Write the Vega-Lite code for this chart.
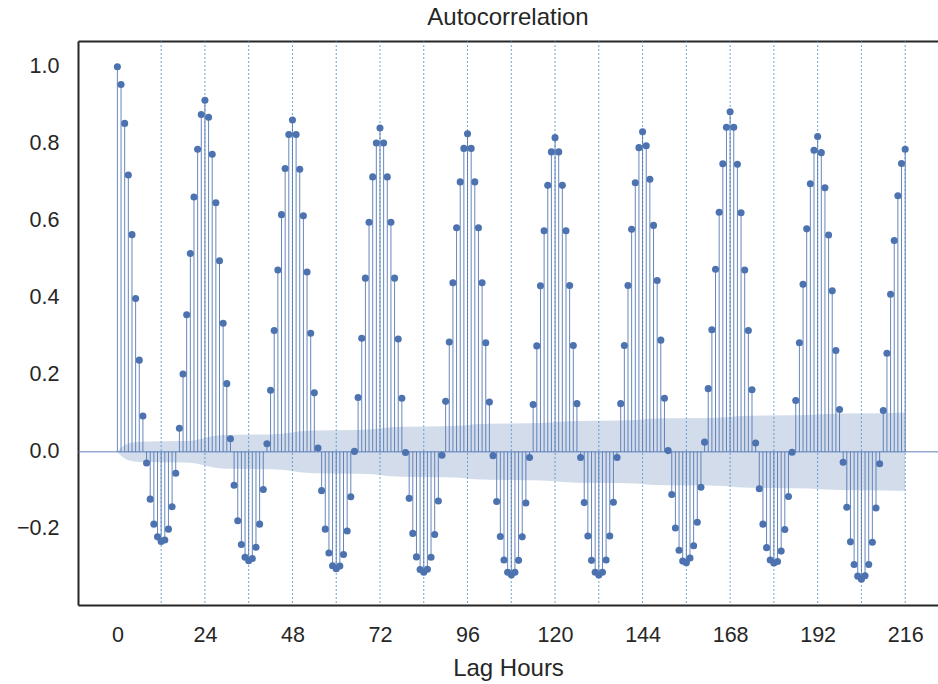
{
  "$schema": "https://vega.github.io/schema/vega-lite/v6.json",
  "width": 860,
  "height": 564,
  "autosize": {"type": "none"},
  "padding": {"left": 78, "top": 41, "right": 0, "bottom": 79},
  "background": "white",
  "config": {
    "view": {"stroke": null},
    "font": "Liberation Sans",
    "axis": {"labelFont": "Liberation Sans", "titleFont": "Liberation Sans", "labelColor": "#262626", "titleColor": "#262626", "grid": false, "ticks": false, "domainColor": "#262626", "domainWidth": 2}
  },
  "title": {"text": "Autocorrelation", "fontSize": 24, "fontWeight": "normal", "font": "Liberation Sans", "color": "#262626", "offset": 11},
  "datasets": {
    "acf": [
      {"lag":0,"acf":1.0},{"lag":1,"acf":0.954},{"lag":2,"acf":0.853},{"lag":3,"acf":0.719},{"lag":4,"acf":0.564},{"lag":5,"acf":0.398},{"lag":6,"acf":0.238},{"lag":7,"acf":0.093},{"lag":8,"acf":-0.029},{"lag":9,"acf":-0.123},{"lag":10,"acf":-0.188},{"lag":11,"acf":-0.221},{"lag":12,"acf":-0.233},{"lag":13,"acf":-0.229},{"lag":14,"acf":-0.201},{"lag":15,"acf":-0.143},{"lag":16,"acf":-0.056},{"lag":17,"acf":0.061},{"lag":18,"acf":0.202},{"lag":19,"acf":0.356},{"lag":20,"acf":0.515},{"lag":21,"acf":0.662},{"lag":22,"acf":0.786},{"lag":23,"acf":0.876},
      {"lag":24,"acf":0.913},{"lag":25,"acf":0.869},{"lag":26,"acf":0.773},{"lag":27,"acf":0.647},{"lag":28,"acf":0.496},{"lag":29,"acf":0.334},{"lag":30,"acf":0.177},{"lag":31,"acf":0.034},{"lag":32,"acf":-0.087},{"lag":33,"acf":-0.179},{"lag":34,"acf":-0.241},{"lag":35,"acf":-0.274},{"lag":36,"acf":-0.283},{"lag":37,"acf":-0.277},{"lag":38,"acf":-0.248},{"lag":39,"acf":-0.188},{"lag":40,"acf":-0.098},{"lag":41,"acf":0.021},{"lag":42,"acf":0.160},{"lag":43,"acf":0.315},{"lag":44,"acf":0.472},{"lag":45,"acf":0.616},{"lag":46,"acf":0.736},{"lag":47,"acf":0.824},
      {"lag":48,"acf":0.862},{"lag":49,"acf":0.824},{"lag":50,"acf":0.734},{"lag":51,"acf":0.613},{"lag":52,"acf":0.467},{"lag":53,"acf":0.308},{"lag":54,"acf":0.153},{"lag":55,"acf":0.010},{"lag":56,"acf":-0.101},{"lag":57,"acf":-0.201},{"lag":58,"acf":-0.263},{"lag":59,"acf":-0.296},{"lag":60,"acf":-0.304},{"lag":61,"acf":-0.297},{"lag":62,"acf":-0.267},{"lag":63,"acf":-0.206},{"lag":64,"acf":-0.117},{"lag":65,"acf":0.001},{"lag":66,"acf":0.141},{"lag":67,"acf":0.295},{"lag":68,"acf":0.451},{"lag":69,"acf":0.596},{"lag":70,"acf":0.714},{"lag":71,"acf":0.802},
      {"lag":72,"acf":0.841},{"lag":73,"acf":0.802},{"lag":74,"acf":0.714},{"lag":75,"acf":0.596},{"lag":76,"acf":0.451},{"lag":77,"acf":0.293},{"lag":78,"acf":0.139},{"lag":79,"acf":-0.002},{"lag":80,"acf":-0.121},{"lag":81,"acf":-0.212},{"lag":82,"acf":-0.273},{"lag":83,"acf":-0.306},{"lag":84,"acf":-0.313},{"lag":85,"acf":-0.305},{"lag":86,"acf":-0.274},{"lag":87,"acf":-0.215},{"lag":88,"acf":-0.128},{"lag":89,"acf":-0.009},{"lag":90,"acf":0.131},{"lag":91,"acf":0.285},{"lag":92,"acf":0.439},{"lag":93,"acf":0.582},{"lag":94,"acf":0.701},{"lag":95,"acf":0.788},
      {"lag":96,"acf":0.826},{"lag":97,"acf":0.788},{"lag":98,"acf":0.701},{"lag":99,"acf":0.582},{"lag":100,"acf":0.439},{"lag":101,"acf":0.283},{"lag":102,"acf":0.129},{"lag":103,"acf":-0.010},{"lag":104,"acf":-0.129},{"lag":105,"acf":-0.220},{"lag":106,"acf":-0.281},{"lag":107,"acf":-0.313},{"lag":108,"acf":-0.320},{"lag":109,"acf":-0.313},{"lag":110,"acf":-0.282},{"lag":111,"acf":-0.221},{"lag":112,"acf":-0.133},{"lag":113,"acf":-0.015},{"lag":114,"acf":0.123},{"lag":115,"acf":0.275},{"lag":116,"acf":0.431},{"lag":117,"acf":0.574},{"lag":118,"acf":0.692},{"lag":119,"acf":0.779},
      {"lag":120,"acf":0.816},{"lag":121,"acf":0.779},{"lag":122,"acf":0.692},{"lag":123,"acf":0.574},{"lag":124,"acf":0.432},{"lag":125,"acf":0.276},{"lag":126,"acf":0.125},{"lag":127,"acf":-0.015},{"lag":128,"acf":-0.132},{"lag":129,"acf":-0.219},{"lag":130,"acf":-0.282},{"lag":131,"acf":-0.313},{"lag":132,"acf":-0.320},{"lag":133,"acf":-0.313},{"lag":134,"acf":-0.281},{"lag":135,"acf":-0.219},{"lag":136,"acf":-0.131},{"lag":137,"acf":-0.015},{"lag":138,"acf":0.125},{"lag":139,"acf":0.276},{"lag":140,"acf":0.432},{"lag":141,"acf":0.578},{"lag":142,"acf":0.699},{"lag":143,"acf":0.790},
      {"lag":144,"acf":0.831},{"lag":145,"acf":0.795},{"lag":146,"acf":0.708},{"lag":147,"acf":0.588},{"lag":148,"acf":0.445},{"lag":149,"acf":0.290},{"lag":150,"acf":0.139},{"lag":151,"acf":0.003},{"lag":152,"acf":-0.111},{"lag":153,"acf":-0.198},{"lag":154,"acf":-0.256},{"lag":155,"acf":-0.284},{"lag":156,"acf":-0.288},{"lag":157,"acf":-0.276},{"lag":158,"acf":-0.244},{"lag":159,"acf":-0.183},{"lag":160,"acf":-0.092},{"lag":161,"acf":0.025},{"lag":162,"acf":0.164},{"lag":163,"acf":0.317},{"lag":164,"acf":0.474},{"lag":165,"acf":0.622},{"lag":166,"acf":0.748},{"lag":167,"acf":0.843},
      {"lag":168,"acf":0.883},{"lag":169,"acf":0.843},{"lag":170,"acf":0.747},{"lag":171,"acf":0.621},{"lag":172,"acf":0.472},{"lag":173,"acf":0.315},{"lag":174,"acf":0.161},{"lag":175,"acf":0.023},{"lag":176,"acf":-0.096},{"lag":177,"acf":-0.188},{"lag":178,"acf":-0.249},{"lag":179,"acf":-0.281},{"lag":180,"acf":-0.289},{"lag":181,"acf":-0.285},{"lag":182,"acf":-0.258},{"lag":183,"acf":-0.202},{"lag":184,"acf":-0.116},{"lag":185,"acf":-0.001},{"lag":186,"acf":0.133},{"lag":187,"acf":0.283},{"lag":188,"acf":0.435},{"lag":189,"acf":0.579},{"lag":190,"acf":0.696},{"lag":191,"acf":0.783},
      {"lag":192,"acf":0.819},{"lag":193,"acf":0.777},{"lag":194,"acf":0.686},{"lag":195,"acf":0.563},{"lag":196,"acf":0.418},{"lag":197,"acf":0.263},{"lag":198,"acf":0.110},{"lag":199,"acf":-0.027},{"lag":200,"acf":-0.144},{"lag":201,"acf":-0.234},{"lag":202,"acf":-0.293},{"lag":203,"acf":-0.323},{"lag":204,"acf":-0.331},{"lag":205,"acf":-0.322},{"lag":206,"acf":-0.293},{"lag":207,"acf":-0.235},{"lag":208,"acf":-0.146},{"lag":209,"acf":-0.031},{"lag":210,"acf":0.107},{"lag":211,"acf":0.256},{"lag":212,"acf":0.409},{"lag":213,"acf":0.549},{"lag":214,"acf":0.665},{"lag":215,"acf":0.749},
      {"lag":216,"acf":0.786}
    ],
    "band": [
      {"lag":0,"lo":0,"hi":0},{"lag":1,"lo":-0.0105,"hi":0.0105},{"lag":2,"lo":-0.0176,"hi":0.0176},{"lag":3,"lo":-0.0217,"hi":0.0217},{"lag":4,"lo":-0.0242,"hi":0.0242},{"lag":5,"lo":-0.0256,"hi":0.0256},{"lag":6,"lo":-0.0263,"hi":0.0263},{"lag":8,"lo":-0.0266,"hi":0.0266},{"lag":18,"lo":-0.0277,"hi":0.0277},{"lag":20,"lo":-0.0283,"hi":0.0283},{"lag":22,"lo":-0.031,"hi":0.031},{"lag":24,"lo":-0.0356,"hi":0.0356},{"lag":26,"lo":-0.0402,"hi":0.0402},{"lag":28,"lo":-0.0429,"hi":0.0429},{"lag":30,"lo":-0.0438,"hi":0.0438},
      {"lag":42,"lo":-0.0452,"hi":0.0452},{"lag":46,"lo":-0.0475,"hi":0.0475},{"lag":48,"lo":-0.0499,"hi":0.0499},{"lag":50,"lo":-0.0531,"hi":0.0531},{"lag":54,"lo":-0.0555,"hi":0.0555},
      {"lag":66,"lo":-0.0568,"hi":0.0568},{"lag":70,"lo":-0.0585,"hi":0.0585},{"lag":72,"lo":-0.0604,"hi":0.0604},{"lag":74,"lo":-0.0629,"hi":0.0629},{"lag":78,"lo":-0.0649,"hi":0.0649},
      {"lag":90,"lo":-0.0661,"hi":0.0661},{"lag":94,"lo":-0.0675,"hi":0.0675},{"lag":96,"lo":-0.0691,"hi":0.0691},{"lag":98,"lo":-0.0713,"hi":0.0713},{"lag":102,"lo":-0.0729,"hi":0.0729},
      {"lag":114,"lo":-0.0741,"hi":0.0741},{"lag":118,"lo":-0.0752,"hi":0.0752},{"lag":120,"lo":-0.0768,"hi":0.0768},{"lag":122,"lo":-0.0787,"hi":0.0787},{"lag":126,"lo":-0.0802,"hi":0.0802},
      {"lag":138,"lo":-0.0813,"hi":0.0813},{"lag":142,"lo":-0.0825,"hi":0.0825},{"lag":144,"lo":-0.0838,"hi":0.0838},{"lag":146,"lo":-0.0856,"hi":0.0856},{"lag":150,"lo":-0.087,"hi":0.087},
      {"lag":162,"lo":-0.0878,"hi":0.0878},{"lag":166,"lo":-0.089,"hi":0.089},{"lag":168,"lo":-0.0904,"hi":0.0904},{"lag":170,"lo":-0.0923,"hi":0.0923},{"lag":174,"lo":-0.0937,"hi":0.0937},
      {"lag":186,"lo":-0.0946,"hi":0.0946},{"lag":190,"lo":-0.0955,"hi":0.0955},{"lag":192,"lo":-0.0967,"hi":0.0967},{"lag":194,"lo":-0.0982,"hi":0.0982},{"lag":198,"lo":-0.0993,"hi":0.0993},
      {"lag":210,"lo":-0.1003,"hi":0.1003},{"lag":214,"lo":-0.1013,"hi":0.1013},{"lag":216,"lo":-0.102,"hi":0.102}
    ],
    "grid": [
      {"lag":12},{"lag":24},{"lag":36},{"lag":48},{"lag":60},{"lag":72},{"lag":84},{"lag":96},{"lag":108},{"lag":120},{"lag":132},{"lag":144},{"lag":156},{"lag":168},{"lag":180},{"lag":192},{"lag":204},{"lag":216}
    ],
    "zero": [{"v":0}]
  },
  "resolve": {"axis": {"x": "independent"}},
  "layer": [
    {
      "data": {"name": "band"},
      "mark": {"type": "area", "color": "#4C72B0", "opacity": 0.25},
      "encoding": {
        "x": {"field": "lag", "type": "quantitative", "scale": {"domain": [-10.8, 225.0], "nice": false, "zero": false},
              "axis": {"orient": "bottom", "values": [0,24,48,72,96,120,144,168,192,216], "labelFontSize": 21.5, "labelPadding": 19, "title": "Lag Hours", "titleFontSize": 24, "titleFontWeight": "normal", "titlePadding": 11, "domain": true}},
        "y": {"field": "lo", "type": "quantitative", "scale": {"domain": [-0.398, 1.067], "nice": false, "zero": false},
              "axis": {"values": [-0.2,0,0.2,0.4,0.6,0.8,1.0], "format": ".1f", "labelFontSize": 21.5, "labelPadding": 19, "title": null, "domain": true}},
        "y2": {"field": "hi"}
      }
    },
    {
      "data": {"name": "grid"},
      "mark": {"type": "rule", "color": "#4a90c8", "strokeDash": [2, 2], "strokeWidth": 1, "opacity": 0.8},
      "encoding": {
        "x": {"field": "lag", "type": "quantitative", "axis": {"orient": "top", "labels": false, "ticks": false, "title": null, "domain": true}}
      }
    },
    {
      "data": {"name": "zero"},
      "mark": {"type": "rule", "color": "#4C72B0", "opacity": 0.6, "strokeWidth": 1.5},
      "encoding": {
        "y": {"field": "v", "type": "quantitative", "title": null}
      }
    },
    {
      "data": {"name": "acf"},
      "mark": {"type": "rule", "color": "#4C72B0", "strokeWidth": 1, "opacity": 0.85},
      "encoding": {
        "x": {"field": "lag", "type": "quantitative", "axis": null},
        "y": {"field": "acf", "type": "quantitative", "title": null},
        "y2": {"datum": 0}
      }
    },
    {
      "data": {"name": "acf"},
      "mark": {"type": "point", "filled": true, "color": "#4C72B0", "opacity": 1, "size": 50},
      "encoding": {
        "x": {"field": "lag", "type": "quantitative", "axis": null},
        "y": {"field": "acf", "type": "quantitative", "title": null}
      }
    }
  ]
}
